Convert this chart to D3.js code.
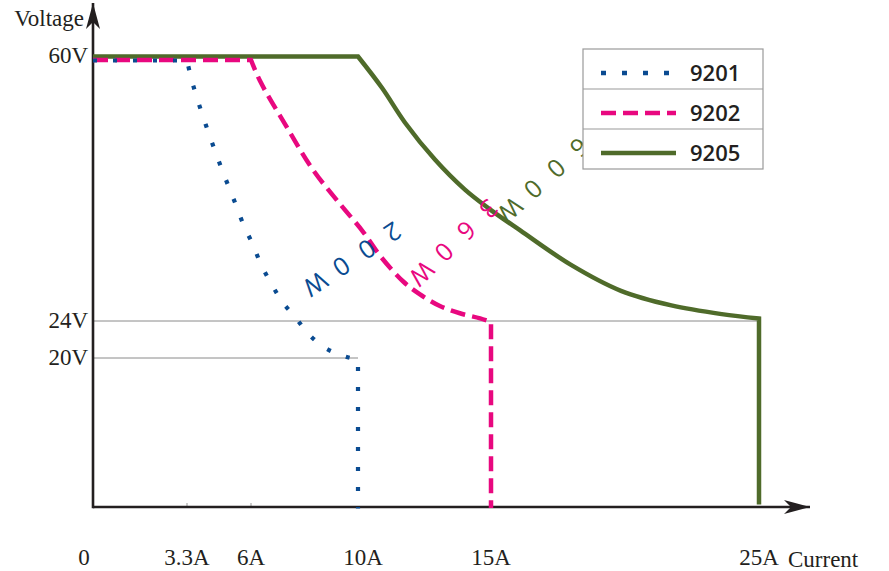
<!DOCTYPE html>
<html>
<head>
<meta charset="utf-8">
<script src="https://cdn.jsdelivr.net/npm/d3@7"></script>
<style>
  body { margin: 0; background: #fff; }
  .serif { font-family: "Liberation Serif", serif; font-size: 23px; fill: #231f20; }
</style>
</head>
<body>
<div class="chart"></div>
<script>
// data
const models = ["9201", "9202", "9205"];
const powerLabels = ["200W", "360W", "600W"];

const current9201 = [0, 3.3, 3.55, 4.1, 4.73, 5.37, 5.7, 6.07, 6.37, 6.75, 7.16, 7.68, 8.17, 8.8, 9.55, 10, 10];
const voltage9201 = [60, 60, 56.7, 51.1, 45.4, 40.1, 37.3, 34.7, 32.0, 29.4, 26.9, 24.6, 22.7, 21.2, 20.3, 20, 0];

const current9202 = [0, 6, 6.34, 7.35, 8.32, 9.33, 10.19, 10.83, 11.69, 12.33, 13.08, 13.83, 14.59, 15, 15];
const voltage9202 = [60, 60, 57.1, 50.7, 44.9, 40.2, 36.4, 33.1, 29.6, 27.8, 26.2, 25.2, 24.5, 24, 0];

const current9205 = [0, 10, 10.9, 11.77, 12.9, 14.02, 14.96, 16.09, 17.97, 19.85, 21.73, 23.61, 25, 25];
const voltage9205 = [60, 60, 55.7, 50.9, 45.8, 41.7, 39.0, 36.1, 31.4, 27.8, 25.8, 24.6, 24, 0];

const xTicks = [0, 3.3, 6, 10, 15, 25];
const xTickLabels = ["0", "3.3A", "6A", "10A", "15A", "25A"];
const yTicks = [60, 24, 20];
const yTickLabels = ["60V", "24V", "20V"];

// where each power label sits (current, voltage)
const labelCurrent = [9.85, 13.65, 17.0];
const labelVoltage = [32.7, 35.0, 43.6];

// styles
const colors = ["#0a4b91", "#e8087f", "#4f6b2a"];
const dashes = ["4 16", "15 7", null];
const labelAngle = [146, 136, 138];

const width = 889, height = 571;

const svg = d3.select(".chart").append("svg")
    .attr("width", width)
    .attr("height", height);

// the drawing is not linear, so piecewise scales
const x = d3.scaleLinear()
    .domain([0, 3.3, 6, 10, 15, 25])
    .range([93, 187, 251, 358, 491, 759]);

const y = d3.scaleLinear()
    .domain([0, 20, 24, 60])
    .range([507, 358, 321, 59]);

const series = [
    current9201.map((c, i) => [c, voltage9201[i]]),
    current9202.map((c, i) => [c, voltage9202[i]]),
    current9205.map((c, i) => [c, voltage9205[i]])
];

// arrow heads
const defs = svg.append("defs");
defs.append("marker")
    .attr("id", "arrow")
    .attr("markerUnits", "userSpaceOnUse")
    .attr("viewBox", "-26 -8 28 16")
    .attr("refX", 0).attr("refY", 0)
    .attr("markerWidth", 28).attr("markerHeight", 16)
    .attr("orient", "auto")
    .append("path")
    .attr("d", "M0,0 L-26,-7 L-19,0 L-26,7 Z")
    .attr("fill", "#231f20");

// thin grid lines
const grid = svg.append("g").attr("stroke", "#8a8a8a").attr("stroke-width", 1);
grid.append("line")
    .attr("x1", x(0)).attr("x2", x(25))
    .attr("y1", y(24)).attr("y2", y(24));
grid.append("line")
    .attr("x1", x(0)).attr("x2", x(10))
    .attr("y1", y(20)).attr("y2", y(20));
grid.append("line")
    .attr("stroke", "#c8c8c8")
    .attr("x1", x(0)).attr("x2", x(10))
    .attr("y1", y(60) - 3).attr("y2", y(60) - 3);

// tiny ticks on the current axis
svg.append("g").selectAll("line")
    .data([3.3, 6])
    .enter().append("line")
    .attr("x1", d => x(d)).attr("x2", d => x(d))
    .attr("y1", y(0) - 4).attr("y2", y(0))
    .attr("stroke", "#999").attr("stroke-width", 1);

// axes
svg.append("line")
    .attr("x1", x(0)).attr("y1", y(0))
    .attr("x2", 810).attr("y2", y(0))
    .attr("stroke", "#231f20").attr("stroke-width", 2.6)
    .attr("marker-end", "url(#arrow)");
svg.append("line")
    .attr("x1", x(0)).attr("y1", y(0) + 1.3)
    .attr("x2", x(0)).attr("y2", 3)
    .attr("stroke", "#231f20").attr("stroke-width", 2.6)
    .attr("marker-end", "url(#arrow)");

// curves: flat part straight, power part smooth, drop straight
const straight = d3.line()
    .x(d => x(d[0]))
    .y(d => y(d[1]));
const smooth = d3.line()
    .x(d => x(d[0]))
    .y(d => y(d[1]))
    .curve(d3.curveCatmullRom.alpha(0.5));

function curvePath(pts) {
    const n = pts.length;
    const head = straight(pts.slice(0, 2));
    const mid = smooth(pts.slice(1, n - 1)).replace(/^M[^CL]*/, "");
    const tail = "L" + x(pts[n - 1][0]) + "," + y(pts[n - 1][1]);
    return head + mid + tail;
}

const shift = [1.5, 1, -2.5];
[2, 1, 0].forEach(i => {
    svg.append("path")
        .attr("d", curvePath(series[i]))
        .attr("transform", "translate(0," + shift[i] + ")")
        .attr("fill", "none")
        .attr("stroke", colors[i])
        .attr("stroke-width", i == 0 ? 4.2 : 4.5)
        .attr("stroke-dasharray", dashes[i])
        .attr("stroke-linejoin", "miter");
});

// power labels along the curves
powerLabels.forEach((label, i) => {
    const cx = x(labelCurrent[i]), cy = y(labelVoltage[i]);
    const a = labelAngle[i] * Math.PI / 180;
    const gap = 31;
    label.split("").forEach((ch, j) => {
        const px = cx + (j - 1.5) * gap * Math.cos(a);
        const py = cy + (j - 1.5) * gap * Math.sin(a);
        svg.append("text")
            .attr("transform", "translate(" + px + "," + py + ") rotate(" + labelAngle[i] + ")")
            .attr("text-anchor", "middle")
            .attr("dy", "0.35em")
            .style("font-family", "'Open Sans', sans-serif")
            .style("font-size", "25px")
            .attr("fill", colors[i])
            .text(ch);
    });
});

// tick labels
svg.append("g").selectAll("text")
    .data(xTicks)
    .enter().append("text")
    .attr("class", "serif")
    .attr("x", d => x(d))
    .attr("dx", (d, i) => i == 0 ? -9 : (d == 10 ? 5 : 0))
    .attr("y", 565)
    .attr("text-anchor", "middle")
    .text((d, i) => xTickLabels[i]);

svg.append("g").selectAll("text")
    .data(yTicks)
    .enter().append("text")
    .attr("class", "serif")
    .attr("x", 88)
    .attr("y", d => y(d) + (d == 60 ? 4 : 7))
    .attr("text-anchor", "end")
    .text((d, i) => yTickLabels[i]);

svg.append("text")
    .attr("class", "serif")
    .attr("x", 84).attr("y", 26)
    .attr("text-anchor", "end")
    .text("Voltage");

svg.append("text")
    .attr("class", "serif")
    .attr("x", 788).attr("y", 567)
    .text("Current");

// legend
const legend = svg.append("g").attr("transform", "translate(583,49)");
const rowH = 40;
legend.append("rect")
    .attr("width", 180).attr("height", rowH * 3)
    .attr("fill", "#fff")
    .attr("stroke", "#9a9a9a").attr("stroke-width", 1.2);

const rows = legend.selectAll(".row")
    .data(models)
    .enter().append("g")
    .attr("class", "row")
    .attr("transform", (d, i) => "translate(0," + i * rowH + ")");

rows.filter((d, i) => i > 0).append("line")
    .attr("x1", 0).attr("x2", 180)
    .attr("y1", 0).attr("y2", 0)
    .attr("stroke", "#9a9a9a").attr("stroke-width", 1.2);

rows.append("line")
    .attr("x1", 18).attr("x2", 93)
    .attr("y1", rowH / 2 + 4).attr("y2", rowH / 2 + 4)
    .attr("stroke", (d, i) => colors[i])
    .attr("stroke-width", 4.5)
    .attr("stroke-dasharray", (d, i) => i == 0 ? "5 16" : dashes[i]);

rows.append("text")
    .attr("x", 107)
    .attr("y", rowH / 2 + 12)
    .style("font-family", "'Open Sans', sans-serif")
    .style("font-size", "22px")
    .style("font-weight", 600)
    .attr("fill", "#231f20")
    .text(d => d);
</script>
</body>
</html>
